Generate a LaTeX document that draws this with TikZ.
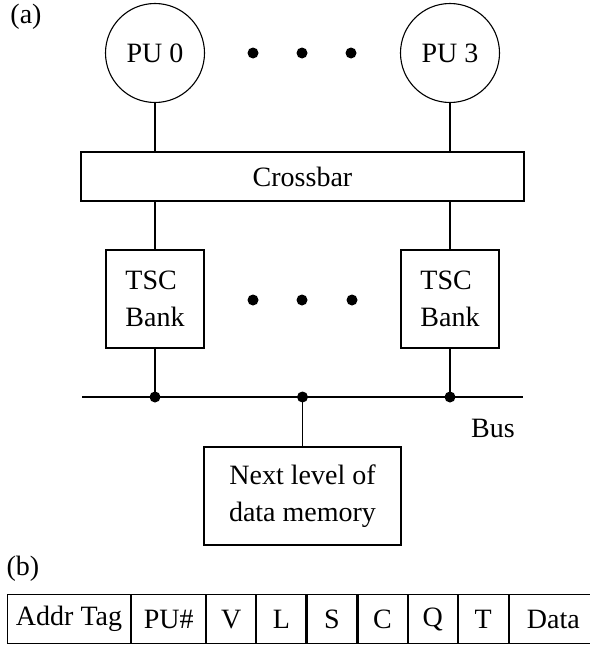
\documentclass[tikz,border=0pt]{standalone}
\usepackage{fontspec}
\setmainfont{Liberation Serif}
\begin{document}
\begin{tikzpicture}[x=1pt, y=-1pt, line width=1.1pt,
  lbl/.style={font=\fontsize{28}{36.5}\selectfont, inner sep=0pt},
  pu/.style={circle, draw, minimum size=99pt, inner sep=0pt, lbl},
  bank/.style={draw, minimum width=98pt, minimum height=98pt, align=left, lbl},
  dot/.style={circle, fill, draw=none, inner sep=0pt, minimum size=11pt},
  cell/.style={draw, minimum height=49pt, inner sep=0pt, lbl, anchor=north west}]
\useasboundingbox (0,0) rectangle (589,645);

% (a) system organisation
\node[lbl] (la) at (26,17) {(a)};
\node[pu] (pu0) at (155,53) {PU 0};
\node[pu] (pu3) at (450,53) {PU 3};
\node[dot] (pd1) at (253,53) {};
\node[dot] (pd2) at (302,53) {};
\node[dot] (pd3) at (351,53) {};

\node[draw, lbl, minimum width=443pt, minimum height=49pt] (xbar) at (302.5,176.5) {Crossbar};

\node[bank] (tsc0) at (155,299) {TSC\\Bank};
\node[bank] (tsc3) at (450,299) {TSC\\Bank};
\node[dot] (bd1) at (253,300) {};
\node[dot] (bd2) at (302,300) {};
\node[dot] (bd3) at (352,300) {};

\coordinate (busL) at (82,397);
\coordinate (busR) at (523,397);
\draw (busL) -- (busR);
\node[lbl] (buslbl) at (493,428) {Bus};

\node[draw, lbl, align=center, minimum width=197pt, minimum height=98pt] (mem) at (302.5,496) {Next level of\\data memory};

\node[dot] (j0) at (tsc0 |- busL) {};
\node[dot] (j1) at (mem |- busL) {};
\node[dot] (j3) at (tsc3 |- busL) {};

\draw (pu0) -- (pu0 |- xbar.north);
\draw (pu3) -- (pu3 |- xbar.north);
\draw (xbar.south -| tsc0) -- (tsc0);
\draw (xbar.south -| tsc3) -- (tsc3);
\draw (tsc0) -- (j0.center);
\draw (tsc3) -- (j3.center);
\draw (j1.center) -- (mem);

% (b) TSC line format
\node[lbl] (lb) at (23,569) {(b)};
\node[cell, minimum width=123pt] (f1) at (7,594) {Addr Tag};
\node[cell, minimum width=74pt] (f2) at (f1.north east) {PU\#};
\node[cell, minimum width=49pt] (f3) at (f2.north east) {V};
\node[cell, minimum width=49pt] (f4) at (f3.north east) {L};
\node[cell, minimum width=50pt] (f5) at (f4.north east) {S};
\node[cell, minimum width=49pt] (f6) at (f5.north east) {C};
\node[cell, minimum width=49pt] (f7) at (f6.north east) {Q};
\node[cell, minimum width=50pt] (f8) at (f7.north east) {T};
\node[cell, minimum width=88pt] (f9) at (f8.north east) {Data};
\end{tikzpicture}
\end{document}
